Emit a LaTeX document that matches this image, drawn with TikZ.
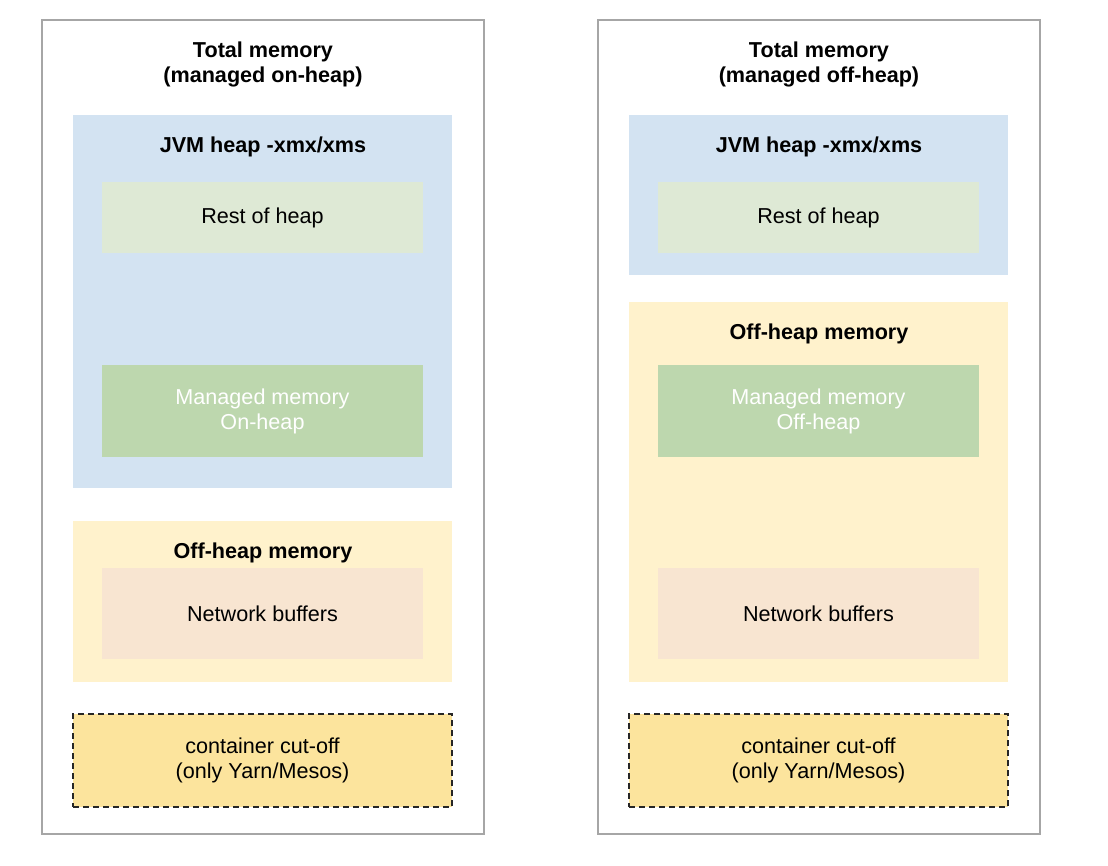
\documentclass[tikz,border=0pt]{standalone}
\usepackage{fontspec}
\setmainfont{Liberation Sans}
\usetikzlibrary{positioning}

\definecolor{frameGray}{HTML}{A6A6A6}
\definecolor{heapBlue}{HTML}{D3E3F2}
\definecolor{restGreen}{HTML}{DEE9D5}
\definecolor{managedGreen}{HTML}{BDD7AE}
\definecolor{offYellow}{HTML}{FFF2CC}
\definecolor{netPeach}{HTML}{F8E5D1}
\definecolor{cutYellow}{HTML}{FCE49D}

\begin{document}
\begin{tikzpicture}[x=0.75pt, y=-0.75pt,
        every node/.style = {font=\fontsize{16.2pt}{18.75pt}\selectfont, align=center},
        box/.style = {rectangle, inner sep=0pt, minimum width={379*0.75pt}},
        inner box/.style = {rectangle, inner sep=0pt, minimum width={321*0.75pt}},
        title/.style = {font=\fontsize{16.2pt}{18.75pt}\selectfont\bfseries}]
    \useasboundingbox (0,0) rectangle (1108,865);

    % left: managed on-heap
    \node[rectangle, draw=frameGray, line width=1.1pt, minimum width={442*0.75pt}, minimum height={814*0.75pt}] (frameL) at (263,427) {};
    \node[title] (totalL) at (263,64.5) {Total memory\\(managed on-heap)};
    \node[box, fill=heapBlue, minimum height={373*0.75pt}] (jvmL) at (262.5,301.5) {};
    \node[title] (jvmtitleL) at (263,147) {JVM heap -xmx/xms};
    \node[inner box, fill=restGreen, minimum height={71*0.75pt}] (restL) at (262.5,217.5) {Rest of heap};
    \node[inner box, fill=managedGreen, minimum height={92*0.75pt}, text=white] (managedL) at (262.5,411) {Managed memory\\On-heap};
    \node[box, fill=offYellow, minimum height={161*0.75pt}] (offL) at (262.5,601.5) {};
    \node[title] (offtitleL) at (263,553) {Off-heap memory};
    \node[inner box, fill=netPeach, minimum height={91*0.75pt}] (netL) at (262.5,613.5) {Network buffers};
    \node[box, fill=cutYellow, draw=black!85, line width=1pt, dash pattern=on 4.5pt off 3pt, minimum height={93*0.75pt}] (cutL) at (262.5,760.5) {container cut-off\\(only Yarn/Mesos)};

    % right: managed off-heap
    \node[rectangle, draw=frameGray, line width=1.1pt, minimum width={442*0.75pt}, minimum height={814*0.75pt}] (frameR) at (819,427) {};
    \node[title] (totalR) at (819,64.5) {Total memory\\(managed off-heap)};
    \node[box, fill=heapBlue, minimum height={160*0.75pt}] (jvmR) at (818.5,195) {};
    \node[title] (jvmtitleR) at (819,147) {JVM heap -xmx/xms};
    \node[inner box, fill=restGreen, minimum height={71*0.75pt}] (restR) at (818.5,217.5) {Rest of heap};
    \node[box, fill=offYellow, minimum height={380*0.75pt}] (offR) at (818.5,492) {};
    \node[title] (offtitleR) at (819,334) {Off-heap memory};
    \node[inner box, fill=managedGreen, minimum height={92*0.75pt}, text=white] (managedR) at (818.5,411) {Managed memory\\Off-heap};
    \node[inner box, fill=netPeach, minimum height={91*0.75pt}] (netR) at (818.5,613.5) {Network buffers};
    \node[box, fill=cutYellow, draw=black!85, line width=1pt, dash pattern=on 4.5pt off 3pt, minimum height={93*0.75pt}] (cutR) at (818.5,760.5) {container cut-off\\(only Yarn/Mesos)};
\end{tikzpicture}
\end{document}
